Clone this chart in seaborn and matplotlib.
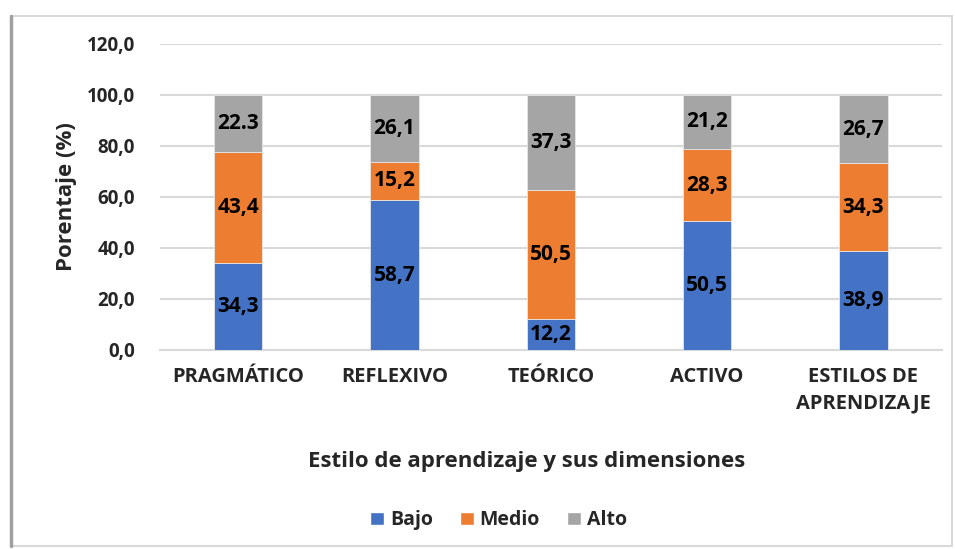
import numpy as np
import pandas as pd
import matplotlib
matplotlib.use("Agg")
import matplotlib.pyplot as plt
from matplotlib.patches import Rectangle, Patch
from matplotlib.lines import Line2D
import seaborn as sns

categories = ["PRAGMÁTICO", "REFLEXIVO", "TEÓRICO", "ACTIVO", "ESTILOS DE\nAPRENDIZAJE"]
bajo = [34.3, 58.7, 12.2, 50.5, 38.9]
medio = [43.4, 15.2, 50.5, 28.3, 34.3]
alto = [22.3, 26.1, 37.3, 21.2, 26.7]
bajo_labels = ["34,3", "58,7", "12,2", "50,5", "38,9"]
medio_labels = ["43,4", "15,2", "50,5", "28,3", "34,3"]
alto_labels = ["22.3", "26,1", "37,3", "21,2", "26,7"]
series_names = ["Bajo", "Medio", "Alto"]
colors = ["#4472C4", "#ED7D31", "#A5A5A5"]
y_ticks = [0, 20, 40, 60, 80, 100, 120]

sns.set_style("white")
plt.rcParams["font.family"] = ["Open Sans", "DejaVu Sans"]
plt.rcParams["font.weight"] = "bold"

fig = plt.figure(figsize=(9.55, 5.49), dpi=100)
ax = fig.add_axes([0.1675, 0.3625, 0.8185, 0.5575])

df = pd.DataFrame({"cat": categories, "Bajo": bajo, "Medio": medio, "Alto": alto})
bottoms = np.zeros(len(categories))
label_sets = [bajo_labels, medio_labels, alto_labels]
for name, col, labs in zip(series_names, colors, label_sets):
    sns.barplot(data=df, x="cat", y=name, bottom=bottoms, color=col,
                width=0.31, ax=ax, zorder=3, saturation=1,
                edgecolor="#E6E6E6", linewidth=0.6)
    ax.bar_label(ax.containers[-1], labels=labs, label_type="center",
                 fontsize=15, fontweight="bold", color="black")
    bottoms = bottoms + df[name].values

ax.set_ylim(0, 120)
ax.set_xlim(-0.5, 4.5)
ax.set_yticks(y_ticks)
ax.set_yticklabels([f"{v:.1f}".replace(".", ",") for v in y_ticks])
ax.yaxis.grid(True, color="#D9D9D9", linewidth=1.5, zorder=0)
ax.set_axisbelow(True)
for s in ["top", "right", "left"]:
    ax.spines[s].set_visible(False)
ax.spines["bottom"].set_color("#D9D9D9")
ax.spines["bottom"].set_linewidth(1.5)
ax.tick_params(axis="x", length=0, labelsize=14.5, pad=12)
ax.tick_params(axis="y", length=0, labelsize=13.5, pad=18)
for t in ax.get_xticklabels():
    t.set_fontweight("bold")
    t.set_linespacing(1.45)
for t in ax.get_yticklabels():
    t.set_fontweight("bold")

ax.set_xlabel("Estilo de aprendizaje y sus dimensiones", fontsize=16,
              fontweight="bold")
ax.xaxis.set_label_coords(0.469, -0.33)
ax.set_ylabel("Porentaje (%)", fontsize=16, fontweight="bold")
ax.yaxis.set_label_coords(-0.106, 0.5)

handles = [Patch(facecolor=c, label=n) for n, c in zip(series_names, colors)]
fig.legend(handles=handles, loc="center", bbox_to_anchor=(0.522, 0.052), ncol=3,
           frameon=False, handlelength=0.7, handleheight=0.7,
           handletextpad=0.3, columnspacing=1.4, prop={"weight": "bold", "size": 14})

# chart frame
fig.patches.append(Rectangle((0.012, 0.005), 0.985, 0.965, transform=fig.transFigure,
                             fill=False, edgecolor="#D9D9D9", linewidth=1.5))
fig.lines.append(Line2D([0.012, 0.012], [0.005, 0.97], transform=fig.transFigure,
                        color="#A0A0A0", linewidth=2.5))

fig.savefig("out.png", dpi=100)
